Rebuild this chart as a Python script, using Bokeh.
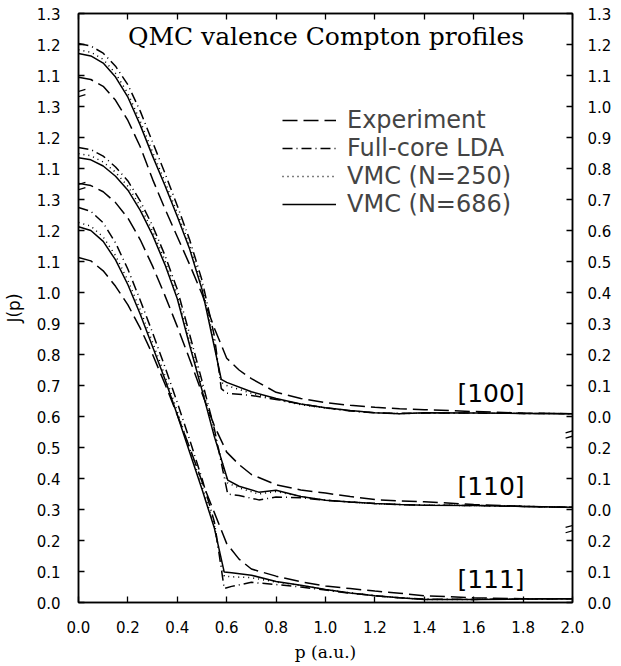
import numpy as np
from bokeh.plotting import figure
from bokeh.models import (LinearAxis, FixedTicker, Label, Arrow, Legend, LegendItem,
                          Range1d)
from bokeh.embed import file_html
from bokeh.resources import INLINE

# ---------------- data (J(p) values) ----------------
DIRECTIONS = ["[100]", "[110]", "[111]"]
OFFSETS = [0.6, 0.3, 0.0]          # vertical shift of each profile on the plot

P_THEORY_100 = [0, 0.05, 0.1, 0.15, 0.2, 0.25, 0.3, 0.35, 0.4, 0.45, 0.5, 0.55, 0.578, 0.6, 0.7, 0.8, 0.9, 1.0, 1.1, 1.2, 1.3, 1.4, 1.6, 1.8, 2.0]
P_THEORY_110 = [0, 0.05, 0.1, 0.15, 0.2, 0.25, 0.3, 0.35, 0.4, 0.45, 0.5, 0.55, 0.604, 0.65, 0.73, 0.8, 0.9, 1.0, 1.1, 1.2, 1.3, 1.4, 1.6, 1.8, 2.0]
P_THEORY_111 = [0, 0.05, 0.1, 0.15, 0.2, 0.25, 0.3, 0.35, 0.4, 0.45, 0.5, 0.55, 0.59, 0.62, 0.7, 0.8, 0.9, 1.0, 1.1, 1.2, 1.3, 1.4, 1.6, 1.8, 2.0]
P_EXP = [0, 0.05, 0.1, 0.15, 0.2, 0.25, 0.3, 0.35, 0.4, 0.45, 0.5, 0.55, 0.6, 0.65, 0.7, 0.8, 0.9, 1.0, 1.1, 1.2, 1.3, 1.4, 1.6, 1.8, 2.0]

VMC686_100 = [1.171, 1.163, 1.140, 1.095, 1.030, 0.940, 0.840, 0.745, 0.645, 0.540, 0.410, 0.225, 0.120, 0.110, 0.080, 0.058, 0.040, 0.028, 0.019, 0.012, 0.009, 0.012, 0.011, 0.010, 0.009]
VMC250_100 = [1.183, 1.175, 1.152, 1.107, 1.042, 0.953, 0.853, 0.757, 0.657, 0.552, 0.421, 0.238, 0.110, 0.100, 0.075, 0.055, 0.038, 0.027, 0.018, 0.012, 0.009, 0.011, 0.011, 0.010, 0.009]
LDA_100 = [1.203, 1.195, 1.172, 1.130, 1.070, 0.985, 0.885, 0.785, 0.680, 0.570, 0.440, 0.260, 0.090, 0.075, 0.068, 0.055, 0.040, 0.028, 0.018, 0.012, 0.010, 0.011, 0.011, 0.010, 0.009]
EXP_100 = [1.094, 1.087, 1.065, 1.020, 0.955, 0.870, 0.765, 0.670, 0.580, 0.490, 0.395, 0.285, 0.188, 0.150, 0.122, 0.078, 0.058, 0.045, 0.036, 0.030, 0.025, 0.022, 0.016, 0.011, 0.009]

VMC686_110 = [1.135, 1.128, 1.108, 1.075, 1.030, 0.965, 0.885, 0.790, 0.680, 0.530, 0.385, 0.235, 0.095, 0.075, 0.056, 0.062, 0.042, 0.030, 0.024, 0.019, 0.016, 0.014, 0.013, 0.010, 0.007]
VMC250_110 = [1.148, 1.141, 1.121, 1.088, 1.043, 0.978, 0.898, 0.803, 0.693, 0.543, 0.397, 0.245, 0.085, 0.070, 0.050, 0.058, 0.042, 0.030, 0.024, 0.019, 0.016, 0.014, 0.013, 0.010, 0.007]
LDA_110 = [1.168, 1.161, 1.140, 1.105, 1.060, 0.995, 0.915, 0.820, 0.710, 0.565, 0.415, 0.260, 0.050, 0.045, 0.031, 0.040, 0.038, 0.030, 0.024, 0.019, 0.016, 0.014, 0.013, 0.010, 0.007]
EXP_110 = [1.052, 1.045, 1.025, 0.990, 0.940, 0.870, 0.785, 0.690, 0.590, 0.485, 0.375, 0.270, 0.185, 0.145, 0.113, 0.080, 0.063, 0.053, 0.042, 0.032, 0.028, 0.025, 0.016, 0.010, 0.007]

VMC686_111 = [1.212, 1.200, 1.165, 1.105, 1.025, 0.930, 0.825, 0.720, 0.605, 0.485, 0.365, 0.240, 0.098, 0.096, 0.088, 0.068, 0.056, 0.042, 0.031, 0.022, 0.015, 0.010, 0.010, 0.011, 0.012]
VMC250_111 = [1.226, 1.214, 1.179, 1.119, 1.039, 0.944, 0.839, 0.732, 0.617, 0.496, 0.376, 0.248, 0.085, 0.083, 0.080, 0.066, 0.055, 0.042, 0.031, 0.022, 0.015, 0.010, 0.010, 0.011, 0.012]
LDA_111 = [1.274, 1.262, 1.225, 1.160, 1.075, 0.975, 0.870, 0.760, 0.645, 0.525, 0.400, 0.260, 0.045, 0.052, 0.065, 0.058, 0.050, 0.040, 0.030, 0.022, 0.015, 0.011, 0.010, 0.011, 0.012]
EXP_111 = [1.113, 1.102, 1.070, 1.020, 0.960, 0.885, 0.800, 0.705, 0.605, 0.500, 0.390, 0.290, 0.190, 0.140, 0.108, 0.085, 0.067, 0.053, 0.045, 0.037, 0.030, 0.022, 0.015, 0.012, 0.012]

X_TICKS = [0.0, 0.2, 0.4, 0.6, 0.8, 1.0, 1.2, 1.4, 1.6, 1.8, 2.0]
X_TICK_LABELS = ["0.0", "0.2", "0.4", "0.6", "0.8", "1.0", "1.2", "1.4", "1.6", "1.8", "2.0"]
Y_TICKS = [round(0.1 * i, 1) for i in range(20)]
LEFT_TICK_LABELS = ["0.0", "0.1", "0.2", "0.3", "0.4", "0.5", "0.6", "0.7", "0.8", "0.9",
                    "1.0", "1.1", "1.2", "1.3", "1.1", "1.2", "1.3", "1.1", "1.2", "1.3"]
RIGHT_TICK_LABELS = ["0.0", "0.1", "0.2", "0.0", "0.1", "0.2", "0.0", "0.1", "0.2", "0.3",
                     "0.4", "0.5", "0.6", "0.7", "0.8", "0.9", "1.0", "1.1", "1.2", "1.3"]
LEFT_BREAKS = [1.64, 1.34]
RIGHT_BREAKS = [0.545, 0.24]

SERIES = {
    "Experiment":    dict(p=[P_EXP, P_EXP, P_EXP], j=[EXP_100, EXP_110, EXP_111], dash="15 6"),
    "Full-core LDA": dict(p=[P_THEORY_100, P_THEORY_110, P_THEORY_111], j=[LDA_100, LDA_110, LDA_111], dash="10 4 1 4"),
    "VMC (N=250)":   dict(p=[P_THEORY_100, P_THEORY_110, P_THEORY_111], j=[VMC250_100, VMC250_110, VMC250_111], dash="1 4"),
    "VMC (N=686)":   dict(p=[P_THEORY_100, P_THEORY_110, P_THEORY_111], j=[VMC686_100, VMC686_110, VMC686_111], dash="solid"),
}

SANS = "DejaVu Sans"
SERIF = "DejaVu Serif"

p = figure(frame_width=494, frame_height=589, output_backend="svg", toolbar_location=None,
           x_range=Range1d(0, 2.0), y_range=Range1d(0, 1.9),
           min_border_left=0, min_border_right=0, min_border_top=0, min_border_bottom=0,
           background_fill_color="white", border_fill_color="white")
p.grid.visible = False
p.outline_line_color = "black"
p.outline_line_width = 1.5


def style_axis(ax, standoff=17, font_size="15px"):
    ax.axis_line_width = 1.5
    ax.axis_line_color = "black"
    ax.major_tick_in = 6
    ax.major_tick_out = 0
    ax.major_tick_line_width = 1.3
    ax.minor_tick_line_color = None
    ax.major_label_text_font = SANS
    ax.major_label_text_font_size = font_size
    ax.major_label_text_color = "black"
    ax.major_label_standoff = standoff
    ax.axis_label_text_font_style = "normal"
    ax.axis_label_text_color = "black"


# bottom
xb = p.xaxis[0]
xb.ticker = FixedTicker(ticks=X_TICKS)
xb.major_label_overrides = {t: l for t, l in zip(X_TICKS, X_TICK_LABELS)}
style_axis(xb, standoff=18)
xb.axis_label = "p (a.u.)"
xb.axis_label_text_font = SERIF
xb.axis_label_text_font_size = "17px"
xb.axis_label_standoff = 6

# left
yl = p.yaxis[0]
yl.ticker = FixedTicker(ticks=Y_TICKS)
yl.major_label_overrides = {t: l for t, l in zip(Y_TICKS, LEFT_TICK_LABELS)}
style_axis(yl, standoff=18)
yl.axis_label = "J(p)"
yl.axis_label_text_font = SANS
yl.axis_label_text_font_size = "17px"
yl.axis_label_standoff = 10

# right
yr = LinearAxis(ticker=FixedTicker(ticks=Y_TICKS),
                major_label_overrides={t: l for t, l in zip(Y_TICKS, RIGHT_TICK_LABELS)})
style_axis(yr, standoff=15)
p.add_layout(yr, "right")

# top (ticks only; blank labels keep a border above the frame)
xt = LinearAxis(ticker=FixedTicker(ticks=X_TICKS),
                major_label_overrides={t: " " for t in X_TICKS})
style_axis(xt, standoff=9, font_size="1px")
p.add_layout(xt, "above")

# curves
legend_items = []
for name, s in SERIES.items():
    first = None
    for k, off in enumerate(OFFSETS):
        yv = np.array(s["j"][k]) + off
        r = p.line(s["p"][k], yv, line_color="black", line_width=1.5,
                   line_dash=s["dash"])
        if first is None:
            first = r
    legend_items.append(LegendItem(label=name, renderers=[first]))

legend = Legend(items=legend_items, location=(204, 384), orientation="vertical",
                background_fill_alpha=0, border_line_color=None,
                label_text_font=SANS, label_text_font_size="24px",
                glyph_width=54, glyph_height=26, label_height=26, spacing=0,
                label_standoff=11, padding=0, margin=0)
p.add_layout(legend, "center")

# direction labels
for d, off in zip(DIRECTIONS, OFFSETS):
    p.add_layout(Label(x=1.67, y=off + 0.075, text=d, text_font=SANS,
                       text_font_size="25px", text_align="center",
                       text_baseline="middle", text_color="black"))

# title
p.add_layout(Label(x=0.2, y=1.825, text="QMC valence Compton profiles", text_font=SERIF,
                   text_font_size="25px", text_align="left", text_baseline="middle",
                   text_color="black"))

# axis break marks
hw, sl, gap = 0.028, 0.0065, 0.0085
for xb0, breaks in ((0.0, LEFT_BREAKS), (2.0, RIGHT_BREAKS)):
    for yb in breaks:
        for g in (-gap, gap):
            p.add_layout(Arrow(start=None, end=None, x_start=xb0 - hw, y_start=yb + g - sl,
                               x_end=xb0 + hw, y_end=yb + g + sl,
                               line_color="black", line_width=1.3))

open("out.html", "w").write(file_html(p, INLINE))
